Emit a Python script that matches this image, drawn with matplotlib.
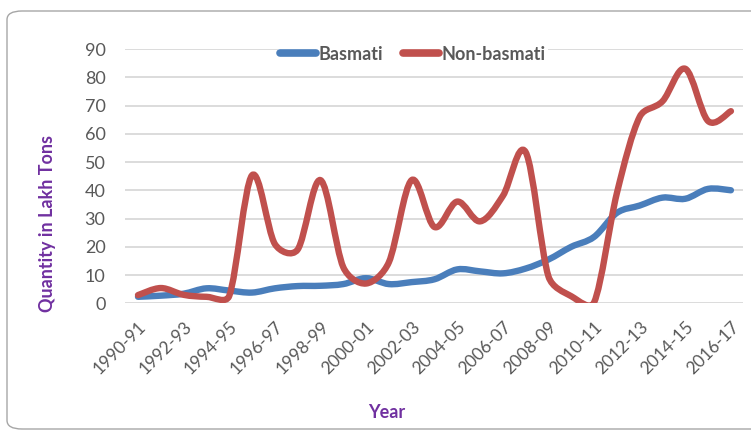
import matplotlib
matplotlib.use("Agg")
import math
import matplotlib.pyplot as plt
from matplotlib.path import Path
from matplotlib.patches import PathPatch, FancyBboxPatch
from matplotlib.lines import Line2D

years = ['1990-91', '1991-92', '1992-93', '1993-94', '1994-95', '1995-96', '1996-97',
         '1997-98', '1998-99', '1999-00', '2000-01', '2001-02', '2002-03', '2003-04',
         '2004-05', '2005-06', '2006-07', '2007-08', '2008-09', '2009-10', '2010-11',
         '2011-12', '2012-13', '2013-14', '2014-15', '2015-16', '2016-17']
basmati = [2.3, 2.7, 3.4, 5.3, 4.5, 3.8, 5.3, 6.1, 6.2, 6.8, 8.9, 6.8, 7.5, 8.5,
           12.0, 11.3, 10.6, 12.3, 15.5, 20.0, 23.5, 32.0, 34.6, 37.4, 37.0, 40.5, 40.0]
non_basmati = [2.9, 5.4, 3.0, 2.3, 2.6, 45.3, 21.0, 19.0, 43.6, 12.8, 7.0, 14.5, 43.6, 27.0,
               36.0, 29.0, 38.0, 53.5, 9.5, 2.5, 0.3, 39.0, 66.0, 71.5, 83.0, 64.5, 68.0]
series_names = ['Basmati', 'Non-basmati']
colors = ['#4a7ebb', '#c0504d']

FONT = 'Lato'
GRAY = '#595959'
PURPLE = '#7030a0'
K = 0.4  # max control length as fraction of the adjacent chord


def smooth_path(ax, xs, ys):
    """Excel-like smoothed line: Catmull-Rom Bezier built in display space,
    with control arms limited by the adjacent chord length."""
    to_disp = ax.transData
    to_data = ax.transData.inverted()
    pts = [tuple(p) for p in to_disp.transform(list(zip(xs, ys)))]
    n = len(pts)

    def dist(a, b):
        return math.hypot(b[0] - a[0], b[1] - a[1])

    tang = []
    for i in range(n):
        a = pts[i - 1] if i > 0 else pts[i]
        b = pts[i + 1] if i < n - 1 else pts[i]
        dx, dy = b[0] - a[0], b[1] - a[1]
        L = math.hypot(dx, dy) or 1.0
        tang.append((dx / L, dy / L, L / 6.0))

    verts = [pts[0]]
    codes = [Path.MOVETO]
    for i in range(n - 1):
        p1, p2 = pts[i], pts[i + 1]
        d = dist(p1, p2)
        ux1, uy1, l1 = tang[i]
        ux2, uy2, l2 = tang[i + 1]
        a1 = min(l1, K * d)
        a2 = min(l2, K * d)
        c1 = (p1[0] + ux1 * a1, p1[1] + uy1 * a1)
        c2 = (p2[0] - ux2 * a2, p2[1] - uy2 * a2)
        verts += [c1, c2, p2]
        codes += [Path.CURVE4] * 3
    verts = to_data.transform(verts)
    return Path(verts, codes)


fig = plt.figure(figsize=(7.51, 4.32), dpi=100)
ax = fig.add_axes([125 / 751, 1 - 303.3 / 432, (743 - 125) / 751, (303.3 - 49) / 432])

x = list(range(len(years)))
ax.set_xlim(-0.57, 26.53)
ax.set_ylim(0, 90)

for vals, col in zip([basmati, non_basmati], colors):
    patch = PathPatch(smooth_path(ax, x, vals), facecolor='none', edgecolor=col,
                      linewidth=4.6, capstyle='round', joinstyle='round', zorder=3)
    ax.add_patch(patch)

ax.set_yticks(range(0, 91, 10))
ax.set_xticks(x[::2])
ax.set_xticklabels(years[::2], rotation=45, ha='right', va='top',
                   rotation_mode='anchor', fontfamily=FONT, fontsize=12.5, color=GRAY)
for lab in ax.get_yticklabels():
    lab.set_fontfamily(FONT)
    lab.set_fontsize(13)
    lab.set_color(GRAY)
ax.tick_params(axis='y', length=0, pad=14)
ax.tick_params(axis='x', length=0, pad=11)
ax.grid(axis='y', color='#d9d9d9', linewidth=1.3)
ax.set_axisbelow(True)
for s in ax.spines.values():
    s.set_visible(False)

fig.text(48 / 751, 1 - 223 / 432, 'Quantity in Lakh Tons', rotation=90, ha='center', va='center',
         fontfamily=FONT, fontsize=13, fontweight='bold', color=PURPLE)
fig.text(387 / 751, 1 - 413 / 432, 'Year', ha='center', va='center',
         fontfamily=FONT, fontsize=13, fontweight='bold', color=PURPLE)

handles = [Line2D([], [], color=c, linewidth=5.5, solid_capstyle='round') for c in colors]
leg = ax.legend(handles, series_names, loc='center', bbox_to_anchor=(0.466, 0.98), ncol=2,
                frameon=True, handlelength=2.0, handletextpad=0.15, columnspacing=1.1,
                borderpad=0.1, prop={'family': FONT, 'size': 13, 'weight': 'bold'})
leg.get_frame().set_facecolor('white')
leg.get_frame().set_edgecolor('none')
leg.get_frame().set_alpha(1)
for t in leg.get_texts():
    t.set_color(GRAY)

border = FancyBboxPatch((7 / 751, 3 / 432), 760 / 751, 418 / 432,
                        boxstyle='round,pad=0,rounding_size=0.02',
                        transform=fig.transFigure, facecolor='none', edgecolor='#a6a6a6',
                        linewidth=1.0, clip_on=False)
fig.patches.append(border)

fig.savefig('out.png', dpi=100)
